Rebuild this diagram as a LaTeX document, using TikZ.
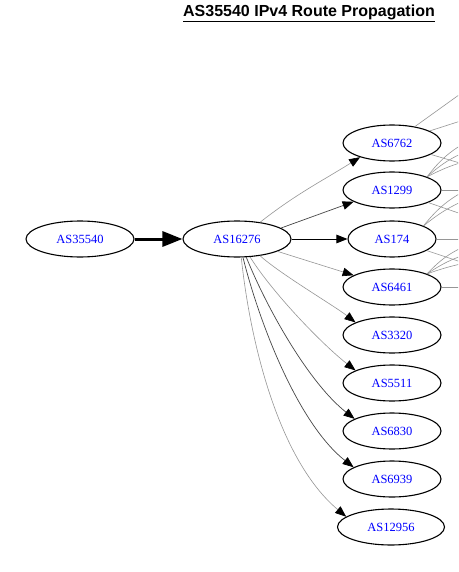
\documentclass[tikz,border=0pt]{standalone}
\usepackage{fontspec}
\setmainfont{Liberation Serif}
\newfontfamily\titlefont{Liberation Sans}
\usetikzlibrary{shapes.geometric,arrows.meta}
\definecolor{nodeblue}{RGB}{0,0,255}
\definecolor{lightedge}{RGB}{150,150,150}
\definecolor{darkedge}{RGB}{70,70,70}
\tikzset{
  asnode/.style={ellipse,draw=black,line width=1.1pt,minimum width=98pt,minimum height=36pt,inner sep=0pt,
    text=nodeblue,font=\fontsize{12.5}{14}\selectfont},
  tip/.style={-{Triangle[length=11pt 0 0,width=8.5pt 0 0,color=black,fill=black]}},
  lite/.style={tip,draw=lightedge,line width=0.6pt},
  dark/.style={tip,draw=darkedge,line width=0.7pt},
  blk/.style={tip,draw=black,line width=0.9pt},
  fan/.style={draw=lightedge,line width=0.6pt},
}
\begin{document}
\begin{tikzpicture}[x=1pt,y=-1pt]
\useasboundingbox (0,0) rectangle (458,572);
\clip (0,0) rectangle (458,572);
\fill[white] (0,0) rectangle (458,572);
\node[font=\titlefont\bfseries\fontsize{16}{18}\selectfont] (title) at (309,13) {\underline{AS35540 IPv4 Route Propagation}};

\node[asnode,minimum width=108pt] (a35540) at (80,239) {AS35540};
\node[asnode,minimum width=108pt] (a16276) at (237,239) {AS16276};
\node[asnode] (a6762) at (392,143) {AS6762};
\node[asnode] (a1299) at (392,190) {AS1299};
\node[asnode,minimum width=88pt] (a174) at (392,239) {AS174};
\node[asnode] (a6461) at (392,287) {AS6461};
\node[asnode] (a3320) at (392,335) {AS3320};
\node[asnode] (a5511) at (392,383) {AS5511};
\node[asnode] (a6830) at (392,431) {AS6830};
\node[asnode] (a6939) at (392,479) {AS6939};
\node[asnode,minimum width=107pt] (a12956) at (391,527) {AS12956};

% main thick edge
\draw[-{Triangle[length=20pt 0 0,width=15pt 0 0]},line width=3pt] (a35540) -- (a16276);

% edges from AS16276
\draw[blk] (a16276) -- (a174);
\draw[lite] (a16276.36) to[out=38,in=-148] (a6762.204);
\draw[dark] (a16276.14) -- (a1299.197);
\draw[lite] (a16276.-17) -- (a6461.163);
\draw[lite] (a16276.-36) to[out=-42,in=142,looseness=0.6] (a3320.161);
\draw[lite] (a16276.-54) to[out=-58,in=142,looseness=0.7] (a5511.161);
\draw[dark] (a16276.-63) to[out=-68,in=142,looseness=0.75] (a6830.162);
\draw[dark] (a16276.-72) to[out=-76,in=142,looseness=0.75] (a6939.163);
\draw[lite] (a16276.-77) to[out=-84,in=140,looseness=0.8] (a12956.167);

% edges leaving the picture on the right
\coordinate (r1) at (470,87);
\coordinate (r2) at (470,118);
\coordinate (r3) at (470,166);
\coordinate (r4) at (470,140);
\coordinate (r5) at (470,150);
\coordinate (r6) at (470,160);
\coordinate (r7) at (470,190);
\coordinate (r8) at (470,217);
\coordinate (r9) at (470,188);
\coordinate (r10) at (470,198);
\coordinate (r11) at (470,239);
\coordinate (r12) at (470,265);
\coordinate (r13) at (470,244);
\coordinate (r14) at (470,253);
\coordinate (r15) at (470,262);
\coordinate (r16) at (470,287);

\draw[fan] (a6762) -- (r1);
\draw[fan] (a6762) -- (r2);
\draw[fan] (a6762) -- (r3);
\draw[fan] (a1299.north east) to[bend left=12] (r4);
\draw[fan] (a1299.north east) to[bend left=10] (r5);
\draw[fan] (a1299.north east) to[bend left=6] (r6);
\draw[fan] (a1299) -- (r7);
\draw[fan] (a1299) -- (r8);
\draw[fan] (a174.north east) to[bend left=12] (r9);
\draw[fan] (a174.north east) to[bend left=8] (r10);
\draw[fan] (a174) -- (r11);
\draw[fan] (a174) -- (r12);
\draw[fan] (a6461.north east) to[bend left=12] (r13);
\draw[fan] (a6461.north east) to[bend left=8] (r14);
\draw[fan] (a6461.north east) to[bend left=4] (r15);
\draw[fan] (a6461) -- (r16);
\end{tikzpicture}
\end{document}
